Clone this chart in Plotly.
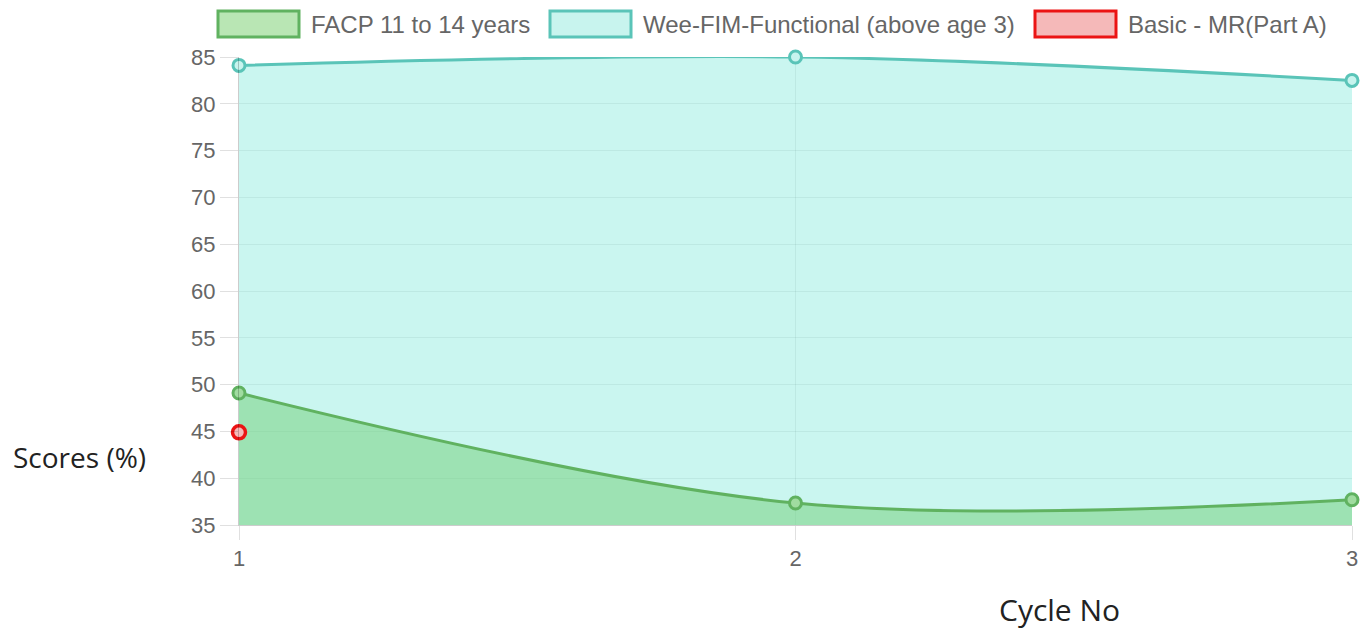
import plotly.graph_objects as go

cycles = [1, 2, 3]
facp = [49.1, 37.35, 37.7]
wee_fim = [84.1, 85.0, 82.5]
basic_mr_x = [1]
basic_mr = [44.9]

series_names = ["FACP 11 to 14 years", "Wee-FIM-Functional (above age 3)", "Basic - MR(Part A)"]
line_colors = ["rgb(96,178,96)", "rgb(90,196,184)", "rgb(235,20,20)"]
box_fills = ["rgb(185,230,180)", "rgb(200,244,238)", "rgb(245,185,185)"]

W, H = 1362, 637
L, R, T, B = 239, 10, 57, 112
PW, PH = W - L - R, H - T - B


def px(x):
    return (x - L) / PW


def py(y):
    return (H - B - y) / PH


fig = go.Figure()

fig.add_trace(go.Scatter(
    x=cycles, y=wee_fim, name=series_names[1],
    mode="lines+markers", fill="tozeroy", fillcolor="rgba(150,238,226,0.5)",
    line=dict(color=line_colors[1], width=3, shape="spline", smoothing=1),
    marker=dict(symbol="circle", size=12, color=box_fills[1],
                line=dict(color=line_colors[1], width=3)),
    cliponaxis=False, showlegend=False,
))
fig.add_trace(go.Scatter(
    x=cycles, y=facp, name=series_names[0],
    mode="lines+markers", fill="tozeroy", fillcolor="rgba(120,210,130,0.55)",
    line=dict(color=line_colors[0], width=3, shape="spline", smoothing=1),
    marker=dict(symbol="circle", size=12, color="rgb(160,220,160)",
                line=dict(color=line_colors[0], width=3)),
    cliponaxis=False, showlegend=False,
))
fig.add_trace(go.Scatter(
    x=basic_mr_x, y=basic_mr, name=series_names[2],
    mode="markers",
    marker=dict(symbol="circle", size=13, color=box_fills[2],
                line=dict(color=line_colors[2], width=3.5)),
    cliponaxis=False, showlegend=False,
))

# Chart.js style legend (boxes + labels)
box_left = [218, 550, 1035]
shapes = []
annotations = []
for i, name in enumerate(series_names):
    x0 = box_left[i]
    shapes.append(dict(type="rect", xref="paper", yref="paper",
                       x0=px(x0), x1=px(x0 + 81), y0=py(37), y1=py(11),
                       fillcolor=box_fills[i], line=dict(color=line_colors[i], width=3)))
    annotations.append(dict(text=name, xref="paper", yref="paper",
                            x=px(x0 + 91), y=py(24), xanchor="left", yanchor="middle",
                            showarrow=False,
                            font=dict(family="Liberation Sans, Arial, sans-serif",
                                      size=24, color="#666666")))

annotations += [
    dict(text="Scores (%)", xref="paper", yref="paper", x=px(79), y=py(457),
         showarrow=False, xanchor="center", yanchor="middle",
         font=dict(family="Open Sans, Noto Sans, sans-serif", size=28, color="#222222")),
    dict(text="Cycle No", xref="paper", yref="paper", x=px(1059), y=py(609),
         showarrow=False, xanchor="center", yanchor="middle",
         font=dict(family="Open Sans, Noto Sans, sans-serif", size=30, color="#222222")),
]

fig.update_layout(
    width=W, height=H,
    margin=dict(l=L, r=R, t=T, b=B, autoexpand=False),
    paper_bgcolor="white", plot_bgcolor="white",
    font=dict(family="Liberation Sans, Arial, sans-serif", color="#666666"),
    showlegend=False,
    shapes=shapes,
    annotations=annotations,
)

fig.update_xaxes(
    range=[1, 3], tickvals=cycles, ticktext=["1", "2", "3"],
    showgrid=True, gridcolor="rgba(0,0,0,0.1)", gridwidth=1,
    ticks="outside", ticklen=14, tickcolor="rgba(0,0,0,0.12)",
    tickfont=dict(size=22, color="#666666"), automargin=False,
    showline=True, linecolor="rgba(0,0,0,0.2)", zeroline=False,
)
fig.update_yaxes(
    range=[35, 85], dtick=5, tick0=35,
    showgrid=True, gridcolor="rgba(0,0,0,0.1)", gridwidth=1,
    ticks="outside", ticklen=18, tickcolor="rgba(0,0,0,0.12)",
    tickfont=dict(size=22, color="#666666"), automargin=False,
    showline=True, linecolor="rgba(0,0,0,0.2)", zeroline=False,
)

fig.write_html("out.html", config={"displayModeBar": False},
               post_script="document.body.style.margin='0';")
